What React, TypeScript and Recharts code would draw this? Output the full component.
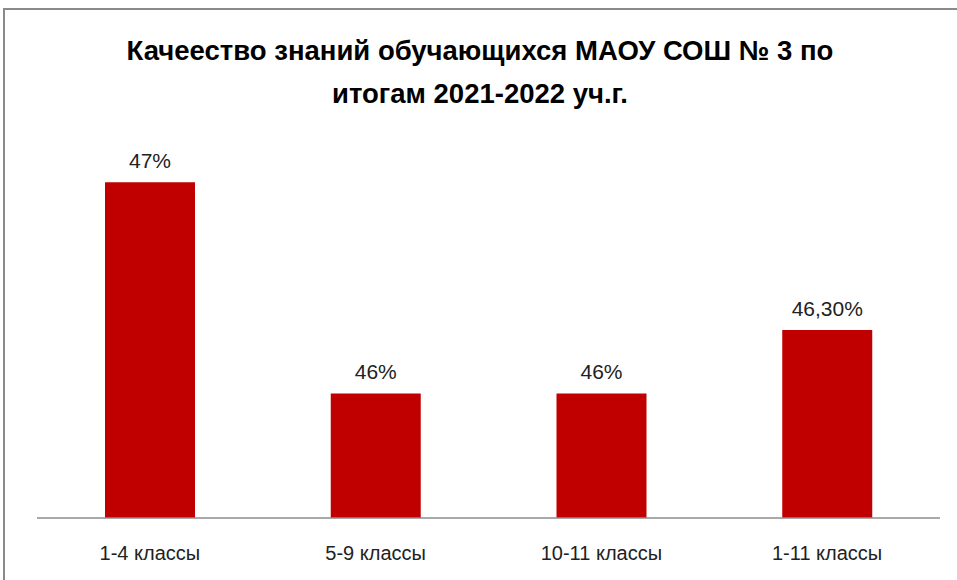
import { Bar, BarChart, XAxis, YAxis, LabelList } from "recharts";

const categories = ["1-4 классы", "5-9 классы", "10-11 классы", "1-11 классы"];
const quality = [0.47, 0.46, 0.46, 0.463];
const valueLabels = ["47%", "46%", "46%", "46,30%"];
const titleLines = [
  "Качеество знаний обучающихся МАОУ СОШ № 3 по",
  "итогам 2021-2022 уч.г.",
];

const data = categories.map((name, i) => ({
  name,
  value: quality[i],
  label: valueLabels[i],
}));

const font = "'Liberation Sans', Arial, sans-serif";

function CategoryTick(props: any) {
  const { x, y, payload } = props;
  return (
    <text
      x={x}
      y={y + 27}
      textAnchor="middle"
      dominantBaseline="central"
      fontSize={20}
      fontFamily={font}
      fill="#222"
    >
      {payload.value}
    </text>
  );
}

export default function App() {
  return (
    <div
      style={{
        position: "fixed",
        left: 0,
        top: 0,
        width: 957,
        height: 580,
        overflow: "hidden",
        background: "#fff",
      }}
    >
      <div
        style={{
          position: "absolute",
          left: 3,
          top: 8,
          width: 1000,
          height: 1000,
          border: "2px solid #8a8a8a",
        }}
      />
      <div
        style={{
          position: "absolute",
          left: 0,
          top: 29,
          width: 960,
          textAlign: "center",
          fontFamily: font,
          fontWeight: "bold",
          fontSize: 27.5,
          lineHeight: "43px",
          color: "#000",
        }}
      >
        {titleLines.map((t) => (
          <div key={t}>{t}</div>
        ))}
      </div>
      <div style={{ position: "absolute", left: 0, top: 0 }}>
        <BarChart
          width={957}
          height={580}
          data={data}
          margin={{ top: 140, right: 17, bottom: 0, left: 37 }}
        >
          <XAxis
            dataKey="name"
            height={62}
            tickLine={false}
            axisLine={{ stroke: "#8c8c8c", strokeWidth: 1.5 }}
            tick={<CategoryTick />}
            interval={0}
          />
          <YAxis hide domain={[0.4541, 0.472]} allowDataOverflow />
          <Bar
            dataKey="value"
            fill="#C00000"
            barSize={90}
            isAnimationActive={false}
          >
            <LabelList
              dataKey="label"
              position="top"
              offset={14}
              fontSize={21}
              fontFamily={font}
              fill="#222"
            />
          </Bar>
        </BarChart>
      </div>
    </div>
  );
}
